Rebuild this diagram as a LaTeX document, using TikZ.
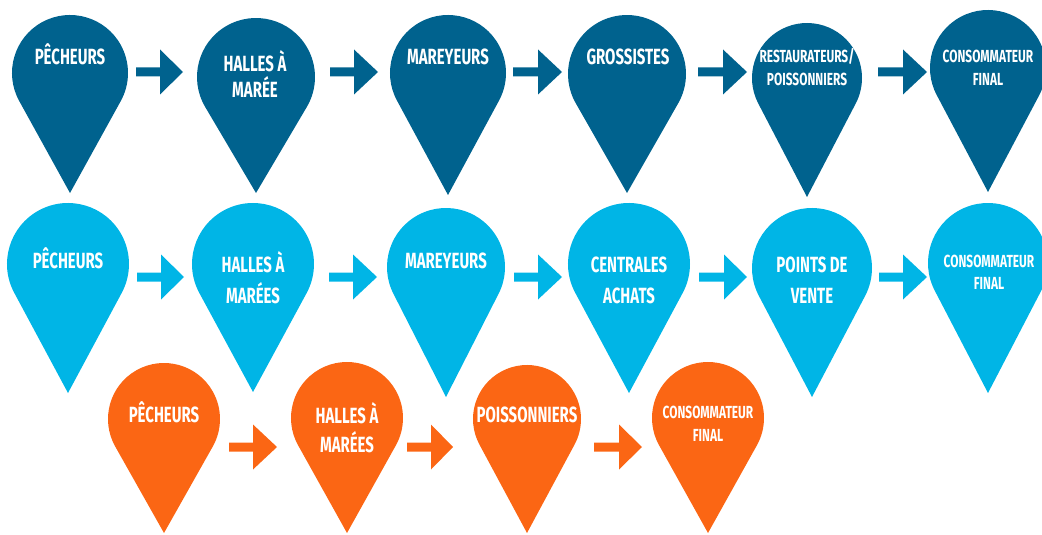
\documentclass[tikz,border=0pt]{standalone}
\usepackage{fontspec}
\newfontfamily\pinfont{Fira Sans}[UprightFont=* Bold, FakeStretch=0.68]
\usetikzlibrary{calc}
\definecolor{dblue}{HTML}{00628E}
\definecolor{lblue}{HTML}{00B5E6}
\definecolor{orng}{HTML}{FB6614}
\tikzset{
  lbl/.style={text=white, inner sep=0pt, anchor=base, font=\pinfont\fontsize{22}{26}\selectfont},
  slbl/.style={lbl, font=\pinfont\fontsize{17.5}{20}\selectfont},
}
% pin: name, cx, top, r, tip y, colour
\newcommand\mypin[6]{%
  \pgfmathsetmacro\pcy{#3+#4}%
  \pgfmathsetmacro\pal{acos(#4/(#5-\pcy))}%
  \coordinate (#1) at (#2,\pcy);
  \fill[#6] (#2,#5) -- ($(#1)+(90+\pal:#4)$) arc[start angle=90+\pal, end angle=450-\pal, radius=#4] -- cycle;
}
% block arrow: name, x start, x head base, x tip, y centre, colour
\newcommand\barrow[6]{%
  \coordinate (#1s) at (#2,#5);
  \coordinate (#1t) at (#4,#5);
  \fill[#6] ($(#1s)+(0,-4.5)$) -- (#3,#5-4.5) -- (#3,#5-22.5) -- (#1t) -- (#3,#5+22.5) -- (#3,#5+4.5) -- ($(#1s)+(0,4.5)$) -- cycle;
}
\begin{document}
\begin{tikzpicture}[x=1pt,y=-1pt]
\useasboundingbox (0,0) rectangle (1042,535);
\clip (0,0) rectangle (1042,535);
% ---------- row 1 ----------
\mypin{a1}{70}{15}{58}{193}{dblue}
\mypin{a2}{256}{18}{59}{193}{dblue}
\mypin{a3}{448}{15}{58}{195}{dblue}
\mypin{a4}{627}{15}{59}{193}{dblue}
\mypin{a5}{807}{23}{55}{197}{dblue}
\mypin{a6}{988}{10}{58}{192}{dblue}
\barrow{ra1}{136}{160}{183}{72}{dblue}
\barrow{ra2}{330}{354}{378}{72}{dblue}
\barrow{ra3}{513}{538}{562}{72}{dblue}
\barrow{ra4}{698}{723}{747}{72}{dblue}
\barrow{ra5}{878}{903}{927}{72}{dblue}
\node[lbl] (ta1) at (70,65) {PÊCHEURS};
\node[lbl] (ta2) at (255,72) {HALLES À};
\node[lbl] (ta2b) at (255,98) {MARÉE};
\node[lbl] (ta3) at (448,65) {MAREYEURS};
\node[lbl] (ta4) at (628,65) {GROSSISTES};
\node[slbl] (ta5) at (807,63) {RESTAURATEURS/};
\node[slbl] (ta5b) at (807,85) {POISSONNIERS};
\node[slbl] (ta6) at (988,63) {CONSOMMATEUR};
\node[slbl] (ta6b) at (988,85) {FINAL};
% ---------- row 2 ----------
\mypin{b1}{68}{203}{61}{393}{lblue}
\mypin{b2}{253}{203}{61}{392}{lblue}
\mypin{b3}{446}{208}{59}{397}{lblue}
\mypin{b4}{629}{203}{61}{393}{lblue}
\mypin{b5}{812}{208}{60}{397}{lblue}
\mypin{b6}{988}{203}{60}{393}{lblue}
\barrow{rb1}{137}{161}{184}{277}{lblue}
\barrow{rb2}{329}{353}{377}{277}{lblue}
\barrow{rb3}{514}{538}{562}{277}{lblue}
\barrow{rb4}{699}{724}{747}{277}{lblue}
\barrow{rb5}{879}{903}{927}{277}{lblue}
\node[lbl] (tb1) at (68,268) {PÊCHEURS};
\node[lbl] (tb2) at (253,272) {HALLES À};
\node[lbl] (tb2b) at (253,303) {MARÉES};
\node[lbl] (tb3) at (446,268) {MAREYEURS};
\node[lbl] (tb4) at (629,272) {CENTRALES};
\node[lbl] (tb4b) at (629,303) {ACHATS};
\node[lbl] (tb5) at (812,272) {POINTS DE};
\node[lbl] (tb5b) at (812,303) {VENTE};
\node[slbl] (tb6) at (989,267) {CONSOMMATEUR};
\node[slbl] (tb6b) at (989,289) {FINAL};
% ---------- row 3 ----------
\mypin{c1}{164}{363}{56}{533}{orng}
\mypin{c2}{347}{362}{56}{533}{orng}
\mypin{c3}{527}{365}{54}{533}{orng}
\mypin{c4}{708}{362}{56}{533}{orng}
\barrow{rc1}{229}{253}{277}{447}{orng}
\barrow{rc2}{407}{431}{453}{447}{orng}
\barrow{rc3}{594}{619}{642}{447}{orng}
\node[lbl] (tc1) at (164,422) {PÊCHEURS};
\node[lbl] (tc2) at (347,423) {HALLES À};
\node[lbl] (tc2b) at (347,452) {MARÉES};
\node[lbl] (tc3) at (527,422) {POISSONNIERS};
\node[slbl] (tc4) at (708,418) {CONSOMMATEUR};
\node[slbl] (tc4b) at (708,441) {FINAL};
\end{tikzpicture}
\end{document}
